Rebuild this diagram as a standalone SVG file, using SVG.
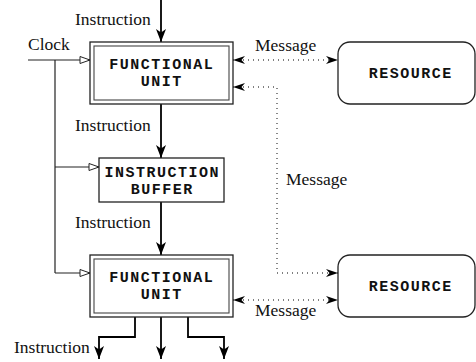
<svg xmlns="http://www.w3.org/2000/svg" width="476" height="362" viewBox="0 0 476 362">
  <style>
    .lbl { font-family: "Liberation Serif", "Times New Roman", serif; font-size: 17.5px; fill: #111; }
    .node { font-family: "Liberation Mono", "Courier New", monospace; font-size: 15px; letter-spacing: 1.5px; font-weight: bold; fill: #111; text-anchor: middle; }
    .box { fill: #fff; stroke: #222; stroke-width: 1.3; }
    .inner { fill: none; stroke: #444; stroke-width: 1.1; }
    .flow { fill: none; stroke: #000; stroke-width: 1.8; marker-end: url(#solid); }
    .clock { fill: none; stroke: #222; stroke-width: 1.2; }
    .clock-in { marker-end: url(#open); }
    .msg { fill: none; stroke: #555; stroke-width: 1.4; stroke-dasharray: 1 4; marker-start: url(#barb); marker-end: url(#barb); }
  </style>
  <defs>
    <marker id="solid" markerUnits="userSpaceOnUse" viewBox="-13 -6 14 12" refX="0" refY="0" markerWidth="14" markerHeight="12" orient="auto">
      <path d="M0,0 L-13,-5 L-9.5,0 L-13,5 Z" fill="#000"/>
    </marker>
    <marker id="open" markerUnits="userSpaceOnUse" viewBox="-11 -5 12 10" refX="0" refY="0" markerWidth="12" markerHeight="10" orient="auto">
      <path d="M0,0 L-10,-3.5 L-10,3.5 Z" fill="#fff" stroke="#222" stroke-width="1"/>
    </marker>
    <marker id="barb" markerUnits="userSpaceOnUse" viewBox="-13 -5 14 10" refX="0" refY="0" markerWidth="14" markerHeight="10" orient="auto-start-reverse">
      <path d="M0,0 L-12,-4 L-8.5,0 L-12,4 Z" fill="#000"/>
    </marker>
  </defs>

  <!-- connectors -->
  <g id="connectors">
    <!-- instruction flow -->
    <path class="flow" d="M161,0 V42"/>
    <path class="flow" d="M161,104 V158"/>
    <path class="flow" d="M161,202 V255"/>
    <path class="flow" d="M135,317 V337 H99 V359"/>
    <path class="flow" d="M161,317 V359"/>
    <path class="flow" d="M188,317 V337 H224 V359"/>
    <!-- clock distribution -->
    <path class="clock clock-in" d="M28,60 H90"/>
    <path class="clock" d="M55,60 V273"/>
    <path class="clock clock-in" d="M55,167 H99"/>
    <path class="clock clock-in" d="M55,273 H90"/>
    <!-- messages -->
    <path class="msg" d="M233,60 H338"/>
    <path class="msg" d="M233,87 H277 V273 H338"/>
    <path class="msg" d="M233,300 H338"/>
    <!-- labels -->
    <text class="lbl" x="75" y="25">Instruction</text>
    <text class="lbl" x="28" y="50">Clock</text>
    <text class="lbl" x="75" y="131">Instruction</text>
    <text class="lbl" x="75" y="228">Instruction</text>
    <text class="lbl" x="14" y="353">Instruction</text>
    <text class="lbl" x="255" y="51">Message</text>
    <text class="lbl" x="286" y="185">Message</text>
    <text class="lbl" x="255" y="316">Message</text>
  </g>

  <g id="fu-top">
    <rect class="box" x="90" y="42" width="143" height="62"/>
    <rect class="inner" x="94" y="46" width="135" height="54"/>
    <text class="node" x="161.75" y="69">FUNCTIONAL</text>
    <text class="node" x="161.75" y="86">UNIT</text>
  </g>

  <g id="instruction-buffer">
    <rect class="box" x="99" y="158" width="125" height="44"/>
    <text class="node" x="162.25" y="177">INSTRUCTION</text>
    <text class="node" x="162.25" y="194">BUFFER</text>
  </g>

  <g id="fu-bottom">
    <rect class="box" x="90" y="255" width="143" height="62"/>
    <rect class="inner" x="94" y="259" width="135" height="54"/>
    <text class="node" x="161.75" y="282">FUNCTIONAL</text>
    <text class="node" x="161.75" y="299">UNIT</text>
  </g>

  <g id="resource-top">
    <rect class="box" x="338" y="42" width="137" height="62" rx="12"/>
    <text class="node" x="410.75" y="78">RESOURCE</text>
  </g>

  <g id="resource-bottom">
    <rect class="box" x="338" y="255" width="137" height="62" rx="12"/>
    <text class="node" x="410.75" y="291">RESOURCE</text>
  </g>
</svg>
